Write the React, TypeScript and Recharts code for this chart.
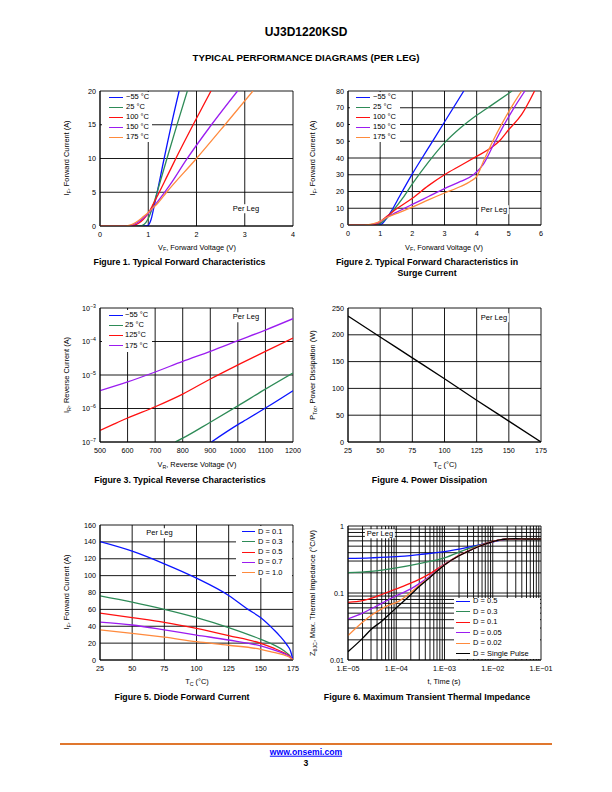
import React from 'react';
import { LineChart, Line, XAxis, YAxis, CartesianGrid } from 'recharts';

const FONT = '"Liberation Sans", Arial, Helvetica, sans-serif';
const TICK_FS = 7.2;
const LBL_FS = 7.5;
const TTL_FS = 7.4;
const CAP_FS = 8.8;

const BLUE = '#0a14ff';
const GREEN = '#2e8b57';
const RED = '#ff1010';
const PURPLE = '#9b1cf0';
const ORANGE = '#ff8a3d';
const BLACK = '#000000';

// ---------- Figure 1: Typical Forward Characteristics ----------
const fig1XTicks = [0, 1, 2, 3, 4];
const fig1YTicks = [0, 5, 10, 15, 20];
const fig1Minus55 = [[0, 0], [0.9, 0], [0.98, 0.05], [1.02, 0.3], [1.06, 1.0], [1.1, 2.2], [1.2, 5.5], [1.3, 9], [1.4, 12.4], [1.5, 15.7], [1.64, 20]];
const fig1T25 = [[0, 0], [0.8, 0], [0.88, 0.1], [0.95, 0.5], [1.0, 1.1], [1.1, 3.0], [1.2, 5.4], [1.4, 10.3], [1.6, 15.1], [1.81, 20]];
const fig1T100 = [[0, 0], [0.6, 0], [0.7, 0.1], [0.8, 0.4], [0.9, 1.0], [1.0, 1.9], [1.1, 3.2], [1.2, 4.6], [1.4, 7.5], [1.6, 10.4], [1.93, 15], [2.3, 20]];
const fig1T150 = [[0, 0], [0.55, 0], [0.65, 0.1], [0.75, 0.4], [0.85, 0.9], [0.95, 1.5], [1.05, 2.3], [1.15, 3.2], [1.3, 4.6], [1.5, 6.6], [1.77, 9.6], [2.31, 15], [2.85, 20]];
const fig1T175 = [[0, 0], [0.5, 0], [0.6, 0.1], [0.7, 0.35], [0.8, 0.8], [0.9, 1.4], [1.0, 2.0], [1.1, 2.7], [1.2, 3.4], [1.38, 5], [2.0, 10], [2.59, 15], [3.17, 20]];

// ---------- Figure 2: Surge Current ----------
const fig2XTicks = [0, 1, 2, 3, 4, 5, 6];
const fig2YTicks = [0, 10, 20, 30, 40, 50, 60, 70, 80];
const fig2Minus55 = [[0, 0], [0.9, 0], [1.0, 0.2], [1.1, 1.5], [1.2, 4], [1.4, 10], [1.6, 17], [2.0, 30.5], [2.5, 46], [3.0, 61.5], [3.6, 80]];
const fig2T25 = [[0, 0], [0.8, 0], [0.9, 0.3], [1.0, 1], [1.2, 4], [1.4, 8.5], [1.7, 16], [2.0, 24.5], [2.5, 37.5], [3.0, 49], [3.5, 58], [4.0, 65.5], [4.5, 72], [5.1, 80]];
const fig2T100 = [[0, 0], [0.7, 0], [0.9, 0.8], [1.0, 2], [1.2, 5], [1.5, 9.5], [2.0, 16], [2.5, 23.5], [3.0, 30], [3.5, 35.5], [4.0, 41], [4.4, 45.5], [4.7, 50], [5.0, 57], [5.4, 66], [5.8, 80]];
const fig2T150 = [[0, 0], [0.6, 0], [0.8, 0.5], [1.0, 2], [1.2, 4.5], [1.5, 7.5], [2.0, 12.3], [2.5, 17], [3.0, 21.7], [3.5, 26], [3.9, 30], [4.2, 36], [4.5, 47], [4.8, 58], [5.1, 68], [5.5, 80]];
const fig2T175 = [[0, 0], [0.5, 0], [0.8, 0.8], [1.0, 2.2], [1.2, 4.5], [1.5, 6.8], [2.0, 10.7], [2.5, 15], [3.0, 19.1], [3.5, 23], [3.8, 26], [4.0, 29], [4.2, 37.5], [4.5, 50], [4.8, 61], [5.1, 71], [5.4, 80]];

// ---------- Figure 3: Reverse Characteristics ----------
const fig3XTicks = [500, 600, 700, 800, 900, 1000, 1100, 1200];
const fig3YTicks = [1e-7, 1e-6, 1e-5, 1e-4, 1e-3];
const fig3Minus55 = [[904, 1e-7], [1000, 3.3e-7], [1030, 4.6e-7], [1100, 1.03e-6], [1200, 3.4e-6]];
const fig3T25 = [[773, 1e-7], [800, 1.3e-7], [900, 3.9e-7], [1000, 1.2e-6], [1100, 3.8e-6], [1200, 1.15e-5]];
const fig3T125 = [[500, 2.2e-7], [550, 3.4e-7], [600, 5.2e-7], [700, 1.13e-6], [800, 2.7e-6], [900, 7.6e-6], [1000, 2.0e-5], [1100, 5.1e-5], [1200, 1.27e-4]];
const fig3T175 = [[500, 3.4e-6], [600, 6.2e-6], [700, 1.23e-5], [800, 2.55e-5], [900, 5.1e-5], [1000, 1.06e-4], [1100, 2.2e-4], [1200, 4.8e-4]];

// ---------- Figure 4: Power Dissipation ----------
const fig4XTicks = [25, 50, 75, 100, 125, 150, 175];
const fig4YTicks = [0, 50, 100, 150, 200, 250];
const fig4Power = [[25, 235], [50, 196], [75, 157], [100, 118], [125, 78], [150, 39], [175, 0]];

// ---------- Figure 5: Diode Forward Current ----------
const fig5XTicks = [25, 50, 75, 100, 125, 150, 175];
const fig5YTicks = [0, 20, 40, 60, 80, 100, 120, 140, 160];
const fig5D01 = [[25, 140.3], [50, 129], [75, 114], [100, 97], [125, 76.5], [140, 60], [150, 50], [160, 36], [165, 28], [170, 18.5], [173, 11], [175, 0]];
const fig5D03 = [[25, 76], [50, 68.5], [75, 60], [100, 50.2], [125, 38.5], [150, 24.5], [160, 18], [168, 11], [172, 6], [175, 0]];
const fig5D05 = [[25, 55.5], [50, 50.2], [75, 44.7], [100, 37.5], [125, 29], [150, 19.8], [160, 14], [168, 8.5], [172, 5], [175, 0]];
const fig5D07 = [[25, 45], [50, 41.5], [75, 35.8], [100, 29.6], [125, 23.7], [150, 16.6], [160, 12], [168, 7.5], [172, 4.5], [175, 0]];
const fig5D10 = [[25, 35.6], [50, 31.6], [75, 27], [100, 21.8], [125, 17.5], [150, 12.6], [160, 9], [168, 6], [172, 3.5], [175, 0]];

// ---------- Figure 6: Transient Thermal Impedance ----------
const fig6XDecades = [1e-5, 1e-4, 1e-3, 1e-2, 1e-1];
const fig6XTicks = [
  1e-5, 2e-5, 3e-5, 4e-5, 5e-5, 6e-5, 7e-5, 8e-5, 9e-5,
  1e-4, 2e-4, 3e-4, 4e-4, 5e-4, 6e-4, 7e-4, 8e-4, 9e-4,
  1e-3, 2e-3, 3e-3, 4e-3, 5e-3, 6e-3, 7e-3, 8e-3, 9e-3,
  1e-2, 2e-2, 3e-2, 4e-2, 5e-2, 6e-2, 7e-2, 8e-2, 9e-2, 1e-1,
];
const fig6YTicks = [0.01, 0.02, 0.03, 0.04, 0.05, 0.06, 0.07, 0.08, 0.09, 0.1, 0.2, 0.3, 0.4, 0.5, 0.6, 0.7, 0.8, 0.9, 1];
const fig6YLabels = [0.01, 0.1, 1];
const fig6D05 = [[1e-5, 0.329], [3e-5, 0.335], [1e-4, 0.348], [3e-4, 0.375], [1e-3, 0.414], [3e-3, 0.48], [5e-3, 0.52], [1e-2, 0.575], [1.5e-2, 0.62], [2e-2, 0.64], [3e-2, 0.645], [5e-2, 0.64], [1e-1, 0.64]];
const fig6D03 = [[1e-5, 0.201], [3e-5, 0.21], [1e-4, 0.237], [3e-4, 0.275], [1e-3, 0.335], [3e-3, 0.455], [5e-3, 0.51], [1e-2, 0.585], [1.5e-2, 0.625], [2e-2, 0.64], [3e-2, 0.645], [5e-2, 0.64], [1e-1, 0.64]];
const fig6D01 = [[1e-5, 0.0726], [2e-5, 0.077], [3e-5, 0.083], [5e-5, 0.095], [1e-4, 0.115], [2e-4, 0.14], [3e-4, 0.16], [5e-4, 0.195], [1e-3, 0.268], [2e-3, 0.365], [3e-3, 0.42], [5e-3, 0.495], [1e-2, 0.587], [1.5e-2, 0.625], [2e-2, 0.64], [3e-2, 0.645], [5e-2, 0.64], [1e-1, 0.64]];
const fig6D005 = [[1e-5, 0.041], [2e-5, 0.05], [3e-5, 0.058], [5e-5, 0.07], [1e-4, 0.091], [2e-4, 0.115], [3e-4, 0.138], [5e-4, 0.178], [1e-3, 0.265], [2e-3, 0.362], [3e-3, 0.416], [5e-3, 0.492], [1e-2, 0.585], [1.5e-2, 0.625], [2e-2, 0.64], [3e-2, 0.645], [5e-2, 0.64], [1e-1, 0.64]];
const fig6D002 = [[1e-5, 0.0231], [2e-5, 0.0365], [3e-5, 0.046], [5e-5, 0.058], [7e-5, 0.066], [1e-4, 0.072], [2e-4, 0.102], [3e-4, 0.13], [5e-4, 0.173], [1e-3, 0.263], [2e-3, 0.361], [3e-3, 0.415], [5e-3, 0.491], [1e-2, 0.585], [1.5e-2, 0.625], [2e-2, 0.64], [3e-2, 0.645], [5e-2, 0.64], [1e-1, 0.64]];
const fig6Single = [[1e-5, 0.0133], [2e-5, 0.021], [3e-5, 0.0285], [5e-5, 0.038], [1e-4, 0.06], [2e-4, 0.094], [3e-4, 0.125], [5e-4, 0.171], [1e-3, 0.262], [2e-3, 0.36], [3e-3, 0.414], [5e-3, 0.49], [1e-2, 0.584], [1.5e-2, 0.625], [2e-2, 0.64], [3e-2, 0.645], [5e-2, 0.64], [1e-1, 0.64]];

type Series = { name: string; color: string; data: number[][] };

const fig1Series: Series[] = [
  { name: '\u221255 \u00b0C', color: BLUE, data: fig1Minus55 },
  { name: '25 \u00b0C', color: GREEN, data: fig1T25 },
  { name: '100 \u00b0C', color: RED, data: fig1T100 },
  { name: '150 \u00b0C', color: PURPLE, data: fig1T150 },
  { name: '175 \u00b0C', color: ORANGE, data: fig1T175 },
];
const fig2Series: Series[] = [
  { name: '\u221255 \u00b0C', color: BLUE, data: fig2Minus55 },
  { name: '25 \u00b0C', color: GREEN, data: fig2T25 },
  { name: '100 \u00b0C', color: RED, data: fig2T100 },
  { name: '150 \u00b0C', color: PURPLE, data: fig2T150 },
  { name: '175 \u00b0C', color: ORANGE, data: fig2T175 },
];
const fig3Series: Series[] = [
  { name: '\u221255 \u00b0C', color: BLUE, data: fig3Minus55 },
  { name: '25 \u00b0C', color: GREEN, data: fig3T25 },
  { name: '125\u00b0C', color: RED, data: fig3T125 },
  { name: '175 \u00b0C', color: PURPLE, data: fig3T175 },
];
const fig4Series: Series[] = [{ name: 'PTot', color: BLACK, data: fig4Power }];
const fig5Series: Series[] = [
  { name: 'D = 0.1', color: BLUE, data: fig5D01 },
  { name: 'D = 0.3', color: GREEN, data: fig5D03 },
  { name: 'D = 0.5', color: RED, data: fig5D05 },
  { name: 'D = 0.7', color: PURPLE, data: fig5D07 },
  { name: 'D = 1.0', color: ORANGE, data: fig5D10 },
];
const fig6Series: Series[] = [
  { name: 'D = 0.5', color: BLUE, data: fig6D05 },
  { name: 'D = 0.3', color: GREEN, data: fig6D03 },
  { name: 'D = 0.1', color: RED, data: fig6D01 },
  { name: 'D = 0.05', color: PURPLE, data: fig6D005 },
  { name: 'D = 0.02', color: ORANGE, data: fig6D002 },
  { name: 'D = Single Pulse', color: BLACK, data: fig6Single },
];

type Rect = { x0: number; y0: number; x1: number; y1: number };

const YW = 44;
const MT = 4;
const MR = 18;
const XH = 22;

const toPts = (arr: number[][]) => arr.map(([x, y]) => ({ x, y }));

const near = (v: number, list: number[]) => list.some((d) => Math.abs(v / d - 1) < 1e-6);

function makeXTick(fmt: (v: number) => string) {
  return (props: any) => {
    const { x, y, payload } = props;
    const s = fmt(payload.value);
    if (!s) return <g />;
    return (
      <text x={x} y={y + 10.5} textAnchor="middle" fontSize={TICK_FS} fontFamily={FONT} fill="#000">
        {s}
      </text>
    );
  };
}

function makeYTick(fmt: (v: number) => string) {
  return (props: any) => {
    const { x, y, payload } = props;
    const s = fmt(payload.value);
    if (!s) return <g />;
    return (
      <text x={x - 4} y={y} dy="0.35em" textAnchor="end" fontSize={TICK_FS} fontFamily={FONT} fill="#000">
        {s}
      </text>
    );
  };
}

const PowTick = (props: any) => {
  const { x, y, payload } = props;
  const e = Math.round(Math.log10(payload.value));
  return (
    <text x={x - 4} y={y} dy="0.35em" textAnchor="end" fontSize={TICK_FS} fontFamily={FONT} fill="#000">
      10<tspan dy={-2.8} fontSize={5.2}>{'\u2212' + Math.abs(e)}</tspan>
    </text>
  );
};

type ChartProps = {
  rect: Rect;
  series: Series[];
  xDomain: [number, number];
  yDomain: [number, number];
  xTicks: number[];
  yTicks: number[];
  xLog?: boolean;
  yLog?: boolean;
  xTick: any;
  yTick: any;
};

function Chart({ rect, series, xDomain, yDomain, xTicks, yTicks, xLog, yLog, xTick, yTick }: ChartProps) {
  const w = rect.x1 - rect.x0 + YW + MR;
  const h = rect.y1 - rect.y0 + MT + XH;
  return (
    <div style={{ position: 'absolute', left: rect.x0 - YW, top: rect.y0 - MT, width: w, height: h }}>
      <LineChart width={w} height={h} margin={{ top: MT, right: MR, bottom: 0, left: 0 }}>
        <CartesianGrid stroke="#000" strokeWidth={0.9} />
        <XAxis
          type="number"
          dataKey="x"
          domain={xDomain}
          ticks={xTicks}
          scale={xLog ? 'log' : 'linear'}
          allowDataOverflow
          interval={0}
          height={XH}
          tickLine={false}
          tickSize={0}
          tickMargin={0}
          axisLine={{ stroke: '#000', strokeWidth: 0.9 }}
          tick={xTick}
        />
        <YAxis
          type="number"
          domain={yDomain}
          ticks={yTicks}
          scale={yLog ? 'log' : 'linear'}
          allowDataOverflow
          interval={0}
          width={YW}
          tickLine={false}
          tickSize={0}
          tickMargin={0}
          axisLine={{ stroke: '#000', strokeWidth: 0.9 }}
          tick={yTick}
        />
        {series.map((s) => (
          <Line
            key={s.name}
            data={toPts(s.data)}
            dataKey="y"
            type="monotone"
            stroke={s.color}
            strokeWidth={1.3}
            dot={false}
            activeDot={false}
            isAnimationActive={false}
          />
        ))}
      </LineChart>
    </div>
  );
}

type TProps = {
  x: number;
  y: number;
  size?: number;
  bold?: boolean;
  rotate?: boolean;
  bg?: string;
  color?: string;
  children: React.ReactNode;
};

function T({ x, y, size = LBL_FS, bold = false, rotate = false, bg, color = '#000', children }: TProps) {
  return (
    <div
      style={{
        position: 'absolute',
        left: x,
        top: y,
        transform: `translate(-50%, -50%)${rotate ? ' rotate(-90deg)' : ''}`,
        fontSize: size,
        fontWeight: bold ? 'bold' : 'normal',
        fontFamily: FONT,
        whiteSpace: 'nowrap',
        lineHeight: 1,
        color,
        background: bg,
        padding: bg ? '1px 2px' : 0,
      }}
    >
      {children}
    </div>
  );
}

const Sub = ({ children }: { children: React.ReactNode }) => (
  <span style={{ fontSize: '0.72em', position: 'relative', top: '0.3em' }}>{children}</span>
);

type LegendProps = {
  box: [number, number, number, number];
  lineX0: number;
  lineX1: number;
  textX: number;
  rowY0: number;
  dy: number;
  series: Series[];
};

function LegendBox({ box, lineX0, lineX1, textX, rowY0, dy, series }: LegendProps) {
  return (
    <>
      <div style={{ position: 'absolute', left: box[0], top: box[1], width: box[2], height: box[3], background: '#fff' }} />
      {series.map((s, i) => {
        const y = rowY0 + i * dy;
        return (
          <React.Fragment key={s.name}>
            <div style={{ position: 'absolute', left: lineX0, top: Math.floor(y), width: lineX1 - lineX0, height: 1.2, background: s.color }} />
            <div
              style={{
                position: 'absolute',
                left: textX,
                top: y,
                transform: 'translateY(-50%)',
                fontSize: LBL_FS,
                fontFamily: FONT,
                lineHeight: 1,
                whiteSpace: 'nowrap',
                color: '#000',
              }}
            >
              {s.name}
            </div>
          </React.Fragment>
        );
      })}
    </>
  );
}

const r1: Rect = { x0: 100, y0: 91, x1: 293, y1: 226 };
const r2: Rect = { x0: 348, y0: 91, x1: 541, y1: 225 };
const r3: Rect = { x0: 100, y0: 308, x1: 293, y1: 442 };
const r4: Rect = { x0: 348, y0: 308, x1: 541, y1: 442 };
const r5: Rect = { x0: 100, y0: 525, x1: 293, y1: 660 };
const r6: Rect = { x0: 348, y0: 526, x1: 541, y1: 660 };

const plain = (v: number) => String(v);
const expLabel = (v: number) => {
  if (!near(v, fig6XDecades)) return '';
  const e = Math.round(Math.log10(v));
  return '1.E\u2212' + String(Math.abs(e)).padStart(2, '0');
};
const fig6YLabel = (v: number) => (near(v, fig6YLabels) ? (v === 1 ? '1' : String(v)) : '');

export default function App() {
  return (
    <div style={{ position: 'absolute', left: 0, top: 0, width: 612, height: 792, background: '#fff', overflow: 'hidden', fontFamily: FONT }}>
      <T x={306} y={32} size={12} bold>UJ3D1220KSD</T>
      <T x={306} y={58} size={9.7} bold>TYPICAL PERFORMANCE DIAGRAMS (PER LEG)</T>

      {/* Figure 1 */}
      <Chart rect={r1} series={fig1Series} xDomain={[0, 4]} yDomain={[0, 20]} xTicks={fig1XTicks} yTicks={fig1YTicks} xTick={makeXTick(plain)} yTick={makeYTick(plain)} />
      <LegendBox box={[102, 92, 50, 50]} lineX0={109} lineX1={123} textX={126} rowY0={97.3} dy={10} series={fig1Series} />
      <T x={246} y={208.5} bg="#fff">Per Leg</T>
      <T x={197} y={247.5} size={TTL_FS}>V<Sub>F</Sub>, Forward Voltage (V)</T>
      <T x={67} y={158} size={TTL_FS} rotate>I<Sub>F</Sub>, Forward Current (A)</T>
      <T x={179.5} y={262} size={CAP_FS} bold>Figure 1. Typical Forward Characteristics</T>

      {/* Figure 2 */}
      <Chart rect={r2} series={fig2Series} xDomain={[0, 6]} yDomain={[0, 80]} xTicks={fig2XTicks} yTicks={fig2YTicks} xTick={makeXTick(plain)} yTick={makeYTick(plain)} />
      <LegendBox box={[350, 92, 50, 50]} lineX0={356} lineX1={370} textX={373} rowY0={97.3} dy={10} series={fig2Series} />
      <T x={494} y={209.5} bg="#fff">Per Leg</T>
      <T x={444} y={247.5} size={TTL_FS}>V<Sub>F</Sub>, Forward Voltage (V)</T>
      <T x={313} y={158} size={TTL_FS} rotate>I<Sub>F</Sub>, Forward Current (A)</T>
      <T x={427} y={262} size={CAP_FS} bold>Figure 2. Typical Forward Characteristics in</T>
      <T x={427} y={273} size={CAP_FS} bold>Surge Current</T>

      {/* Figure 3 */}
      <Chart rect={r3} series={fig3Series} xDomain={[500, 1200]} yDomain={[1e-7, 1e-3]} xTicks={fig3XTicks} yTicks={fig3YTicks} yLog xTick={makeXTick(plain)} yTick={PowTick} />
      <LegendBox box={[102, 310, 50, 42]} lineX0={109} lineX1={123} textX={125} rowY0={315} dy={10.2} series={fig3Series} />
      <T x={246} y={317} bg="#fff">Per Leg</T>
      <T x={197} y={465} size={TTL_FS}>V<Sub>R</Sub>, Reverse Voltage (V)</T>
      <T x={67} y={375} size={TTL_FS} rotate>I<Sub>R</Sub>, Reverse Current (A)</T>
      <T x={180} y={480} size={CAP_FS} bold>Figure 3. Typical Reverse Characteristics</T>

      {/* Figure 4 */}
      <Chart rect={r4} series={fig4Series} xDomain={[25, 175]} yDomain={[0, 250]} xTicks={fig4XTicks} yTicks={fig4YTicks} xTick={makeXTick(plain)} yTick={makeYTick(plain)} />
      <T x={494} y={317.5} bg="#fff">Per Leg</T>
      <T x={445} y={465} size={TTL_FS}>T<Sub>C</Sub> (°C)</T>
      <T x={313} y={375} size={TTL_FS} rotate>P<Sub>Tot</Sub>, Power Dissipation (W)</T>
      <T x={429.5} y={480} size={CAP_FS} bold>Figure 4. Power Dissipation</T>

      {/* Figure 5 */}
      <Chart rect={r5} series={fig5Series} xDomain={[25, 175]} yDomain={[0, 160]} xTicks={fig5XTicks} yTicks={fig5YTicks} xTick={makeXTick(plain)} yTick={makeYTick(plain)} />
      <LegendBox box={[236, 526, 56, 52]} lineX0={242} lineX1={255} textX={258} rowY0={531.7} dy={10.2} series={fig5Series} />
      <T x={159.5} y={533} bg="#fff">Per Leg</T>
      <T x={197} y={682} size={TTL_FS}>T<Sub>C</Sub> (°C)</T>
      <T x={67} y={592} size={TTL_FS} rotate>I<Sub>F</Sub>, Forward Current (A)</T>
      <T x={182} y={697} size={CAP_FS} bold>Figure 5. Diode Forward Current</T>

      {/* Figure 6 */}
      <Chart rect={r6} series={fig6Series} xDomain={[1e-5, 1e-1]} yDomain={[0.01, 1]} xTicks={fig6XTicks} yTicks={fig6YTicks} xLog yLog xTick={makeXTick(expLabel)} yTick={makeYTick(fig6YLabel)} />
      <LegendBox box={[454, 598, 86, 61]} lineX0={456} lineX1={470} textX={473} rowY0={601} dy={10.5} series={fig6Series} />
      <T x={380} y={533.5} bg="#fff">Per Leg</T>
      <T x={444} y={682} size={TTL_FS}>t, Time (s)</T>
      <T x={313} y={593} size={TTL_FS} rotate>Z<Sub>θJC</Sub>, Max. Thermal Impedance (°C/W)</T>
      <T x={427} y={697} size={CAP_FS} bold>Figure 6. Maximum Transient Thermal Impedance</T>

      {/* Footer */}
      <div style={{ position: 'absolute', left: 60, top: 743.3, width: 492, height: 1.6, background: '#E0772E' }} />
      <T x={306} y={752} size={8.6} bold>
        <a href="http://www.onsemi.com" style={{ color: '#0000ff', textDecoration: 'underline' }}>www.onsemi.com</a>
      </T>
      <T x={306} y={762.5} size={8.6} bold>3</T>
    </div>
  );
}
